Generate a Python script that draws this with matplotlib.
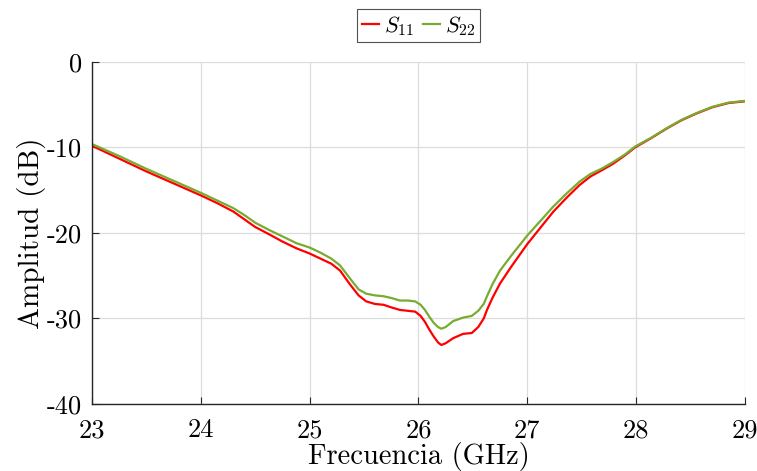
import matplotlib
matplotlib.use('Agg')
import matplotlib.pyplot as plt

# frecuencia en GHz, amplitud en dB
freq = [23.0, 23.25, 23.5, 23.75, 24.0, 24.15, 24.3, 24.4, 24.5, 24.62, 24.75, 24.88,
        25.0, 25.1, 25.2, 25.28, 25.37, 25.45, 25.52, 25.6, 25.68, 25.75, 25.83, 25.9,
        25.97, 26.02, 26.06, 26.1, 26.14, 26.18, 26.21, 26.25, 26.32, 26.41, 26.49, 26.55,
        26.6, 26.63, 26.68, 26.75, 26.85, 27.0, 27.12, 27.24, 27.36, 27.48, 27.58, 27.68,
        27.79, 27.9, 27.99, 28.14, 28.28, 28.42, 28.56, 28.7, 28.85, 29.0]

s11 = [-9.8, -11.3, -12.8, -14.2, -15.6, -16.5, -17.5, -18.4, -19.3, -20.1, -21.0, -21.8,
       -22.4, -23.0, -23.6, -24.4, -26.0, -27.3, -28.0, -28.3, -28.4, -28.7, -29.0, -29.1,
       -29.2, -29.7, -30.4, -31.3, -32.1, -32.8, -33.1, -32.9, -32.3, -31.8, -31.7, -31.0,
       -30.0, -29.0, -27.6, -25.9, -24.0, -21.3, -19.4, -17.5, -15.9, -14.4, -13.4, -12.7,
       -11.9, -10.9, -10.0, -8.9, -7.8, -6.8, -6.0, -5.3, -4.8, -4.6]

s22 = [-9.6, -11.0, -12.5, -13.9, -15.3, -16.2, -17.1, -17.9, -18.8, -19.6, -20.4, -21.2,
       -21.7, -22.3, -23.0, -23.8, -25.3, -26.6, -27.1, -27.3, -27.4, -27.6, -27.9, -27.9,
       -28.0, -28.4, -29.0, -29.8, -30.5, -31.0, -31.2, -31.0, -30.3, -29.9, -29.7, -29.1,
       -28.3, -27.4, -26.0, -24.4, -22.7, -20.3, -18.6, -16.9, -15.4, -14.0, -13.1, -12.5,
       -11.7, -10.8, -9.9, -8.85, -7.75, -6.75, -5.95, -5.25, -4.75, -4.55]

xticks = [23, 24, 25, 26, 27, 28, 29]
yticks = [0, -10, -20, -30, -40]

plt.rcParams['font.family'] = 'serif'
plt.rcParams['font.serif'] = ['cmr10']
plt.rcParams['mathtext.fontset'] = 'cm'
plt.rcParams['axes.unicode_minus'] = False

fig = plt.figure(figsize=(7.57, 4.71), dpi=100)
ax = fig.add_axes([0.1215, 0.1423, 0.8625, 0.7261])

ax.plot(freq, s11, color='#ff0000', lw=1.6, label=r'$S_{11}$')
ax.plot(freq, s22, color='#77ac30', lw=1.6, label=r'$S_{22}$')

ax.set_xlim(23, 29)
ax.set_ylim(-40, 0)
ax.set_xticks(xticks)
ax.set_yticks(yticks)
ax.set_xticklabels([str(t) for t in xticks])
ax.set_yticklabels([str(t) for t in yticks])
ax.grid(True, color='#dcdcdc', lw=0.9)
ax.set_axisbelow(True)

for s in ['top', 'right']:
    ax.spines[s].set_visible(False)
for s in ['left', 'bottom']:
    ax.spines[s].set_linewidth(1.0)
    ax.spines[s].set_color('#262626')

ax.tick_params(direction='in', length=5, width=0.8, labelsize=19, colors='#262626',
               labelcolor='black')
ax.tick_params(axis='x', pad=10.5)
ax.tick_params(axis='y', pad=7)

ax.set_xlabel('Frecuencia (GHz)', fontsize=20.5, labelpad=-0.5)
ax.set_ylabel('Amplitud (dB)', fontsize=21, labelpad=1)

leg = ax.legend(loc='lower center', bbox_to_anchor=(0.5, 1.058), ncol=2, fontsize=16,
                frameon=True, fancybox=False, edgecolor='#262626', handlelength=0.8,
                handletextpad=0.2, columnspacing=0.4, borderpad=0.2, borderaxespad=0)
leg.get_frame().set_linewidth(0.8)

fig.savefig('out.png', dpi=100)
